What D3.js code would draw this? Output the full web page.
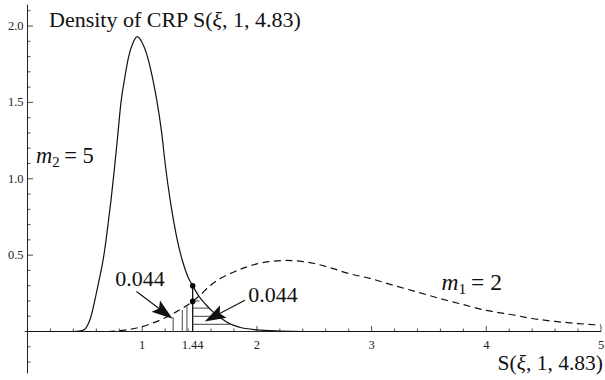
<!DOCTYPE html>
<html><head><meta charset="utf-8">
<script src="https://cdn.jsdelivr.net/npm/d3@7"></script>
</head><body style="margin:0">
<svg id="c" width="605" height="380" font-family="Liberation Serif"></svg>
<script>
// Solid curve (m2 = 5)
const solidX = [0, 0.40, 0.45, 0.50, 0.53, 0.55, 0.574, 0.60, 0.625, 0.65, 0.676, 0.70, 0.728, 0.757, 0.785, 0.815, 0.85, 0.879, 0.92, 0.957, 1.00, 1.053, 1.09, 1.126, 1.17, 1.20, 1.25, 1.30, 1.35, 1.40, 1.44, 1.50, 1.55, 1.62, 1.70, 1.765, 1.85, 2.00, 2.20, 2.40, 5.0];
const solidY = [0, 0, 0.002, 0.015, 0.05, 0.09, 0.16, 0.25, 0.34, 0.43, 0.55, 0.69, 0.86, 1.06, 1.27, 1.50, 1.67, 1.79, 1.89, 1.93, 1.89, 1.78, 1.66, 1.52, 1.30, 1.10, 0.83, 0.62, 0.465, 0.355, 0.30, 0.225, 0.18, 0.127, 0.08, 0.05, 0.028, 0.011, 0.003, 0, 0];
// Dashed curve (m1 = 2)
const dashX = [0, 0.70, 0.80, 0.90, 1.00, 1.10, 1.20, 1.30, 1.44, 1.50, 1.60, 1.70, 1.80, 1.90, 2.00, 2.10, 2.26, 2.40, 2.50, 2.65, 2.80, 3.00, 3.20, 3.40, 3.60, 3.80, 4.00, 4.20, 4.40, 4.60, 4.80, 5.00];
const dashY = [0, 0, 0.005, 0.015, 0.032, 0.058, 0.09, 0.13, 0.197, 0.235, 0.305, 0.355, 0.39, 0.42, 0.443, 0.457, 0.465, 0.458, 0.445, 0.415, 0.38, 0.345, 0.30, 0.258, 0.215, 0.176, 0.138, 0.113, 0.085, 0.066, 0.052, 0.042];
// Tick labels
const xTickLabels = ["1", "1.44", "2", "3", "4", "5"];
const xTickValues = [1, 1.44, 2, 3, 4, 5];
const yTickLabels = ["0.5", "1.0", "1.5", "2.0"];
const yTickValues = [0.5, 1.0, 1.5, 2.0];
// Critical value and the two densities at it
const critX = 1.44;
const critY = [0.30, 0.197];
// Hatching
const hatchVX = [1.27, 1.35, 1.39];
const hatchVTop = [0.095, 0.14, 0.165];
const hatchHY = [0.20, 0.153, 0.099, 0.046];
const hatchHEnd = [1.50, 1.58, 1.68, 1.76];
// Annotations
const areaLabels = ["0.044", "0.044"];

const svg = d3.select("#c");
const x = d3.scaleLinear().domain([0, 5]).range([27.5, 601]);
const y = d3.scaleLinear().domain([0, 2]).range([331.5, 26]);
const FONT = "Liberation Serif";
function tx(sel) { return sel.attr("font-family", FONT).style("font-family", FONT); }

// Axes
const axisCol = "#222";
svg.append("line").attr("x1", x(-0.025)).attr("x2", x(5)).attr("y1", y(0)).attr("y2", y(0))
  .attr("stroke", axisCol).attr("stroke-width", 1);
svg.append("line").attr("x1", x(0)).attr("x2", x(0)).attr("y1", y(2.14)).attr("y2", y(-0.275))
  .attr("stroke", axisCol).attr("stroke-width", 1);

// x ticks (upward)
const xMinor = d3.range(1, 25).map(i => i * 0.2).filter(v => Math.abs(v - Math.round(v)) > 1e-6);
svg.append("g").selectAll("line").data(xMinor).join("line")
  .attr("x1", d => x(d)).attr("x2", d => x(d)).attr("y1", y(0)).attr("y2", y(0) - 3)
  .attr("stroke", axisCol).attr("stroke-width", 0.8);
svg.append("g").selectAll("line").data([1, 2, 3, 4, 5]).join("line")
  .attr("x1", d => x(d)).attr("x2", d => x(d)).attr("y1", y(0)).attr("y2", y(0) - 5.5)
  .attr("stroke", axisCol).attr("stroke-width", 0.8);
tx(svg.append("g").selectAll("text").data(xTickValues).join("text"))
  .attr("x", d => x(d)).attr("y", y(0) + 17)
  .attr("text-anchor", "middle").attr("font-size", 12.5)
  .attr("fill", "#222").text((d, i) => xTickLabels[i]);

// y ticks (rightward)
const yMinor = d3.range(-2, 22).map(i => i * 0.1).filter(v => Math.abs(v * 2 - Math.round(v * 2)) > 1e-6);
svg.append("g").selectAll("line").data(yMinor).join("line")
  .attr("x1", x(0)).attr("x2", x(0) + 3).attr("y1", d => y(d)).attr("y2", d => y(d))
  .attr("stroke", axisCol).attr("stroke-width", 0.8);
svg.append("g").selectAll("line").data([0.5, 1, 1.5, 2]).join("line")
  .attr("x1", x(0)).attr("x2", x(0) + 5.5).attr("y1", d => y(d)).attr("y2", d => y(d))
  .attr("stroke", axisCol).attr("stroke-width", 0.8);
tx(svg.append("g").selectAll("text").data(yTickValues).join("text"))
  .attr("x", x(0) - 4).attr("y", d => y(d) + 4)
  .attr("text-anchor", "end").attr("font-size", 12.5)
  .attr("fill", "#222").text((d, i) => yTickLabels[i]);

// Hatching
svg.append("g").selectAll("line").data(hatchVX).join("line")
  .attr("x1", d => x(d)).attr("x2", d => x(d)).attr("y1", y(0)).attr("y2", (d, i) => y(hatchVTop[i]))
  .attr("stroke", "#666").attr("stroke-width", 1.2);
svg.append("g").selectAll("line").data(hatchHY).join("line")
  .attr("x1", x(critX)).attr("x2", (d, i) => x(hatchHEnd[i])).attr("y1", d => y(d)).attr("y2", d => y(d))
  .attr("stroke", "#666").attr("stroke-width", 1.2);

// Curves
const line = d3.line().x(d => x(d[0])).y(d => y(d[1])).curve(d3.curveMonotoneX);
svg.append("path").attr("d", line(solidX.map((v, i) => [v, solidY[i]])))
  .attr("fill", "none").attr("stroke", "#111").attr("stroke-width", 1.2);
svg.append("path").attr("d", line(dashX.map((v, i) => [v, dashY[i]])))
  .attr("fill", "none").attr("stroke", "#111").attr("stroke-width", 1.2)
  .attr("stroke-dasharray", "7,4.5");

// Critical line and dots
svg.append("line").attr("x1", x(critX)).attr("x2", x(critX)).attr("y1", y(0)).attr("y2", y(critY[0]))
  .attr("stroke", "#111").attr("stroke-width", 1.3);
svg.append("g").selectAll("circle").data(critY).join("circle")
  .attr("cx", x(critX)).attr("cy", d => y(d)).attr("r", 2.8).attr("fill", "#000");

// Arrows
const arrows = [
  { from: [0.95, 0.262], to: [1.265, 0.084] },
  { from: [1.895, 0.205], to: [1.545, 0.066] }
];
arrows.forEach(a => {
  const x1 = x(a.from[0]), y1 = y(a.from[1]), x2 = x(a.to[0]), y2 = y(a.to[1]);
  const dx = x2 - x1, dy = y2 - y1, L = Math.hypot(dx, dy);
  const ux = dx / L, uy = dy / L, nx = -uy, ny = ux;
  const hl = 21, hw = 7, notch = 4;
  const bx = x2 - ux * hl, by = y2 - uy * hl;
  svg.append("line").attr("x1", x1).attr("y1", y1).attr("x2", bx + ux * notch).attr("y2", by + uy * notch)
    .attr("stroke", "#111").attr("stroke-width", 1.1);
  const pts = [[x2, y2], [bx + nx * hw, by + ny * hw], [bx + ux * notch, by + uy * notch], [bx - nx * hw, by - ny * hw]];
  svg.append("path").attr("d", "M" + pts.map(p => p.join(",")).join("L") + "Z").attr("fill", "#111");
});

// Area labels
const areaPos = [[0.765, 0.30], [1.925, 0.193]];
tx(svg.append("g").selectAll("text").data(areaPos).join("text"))
  .attr("x", d => x(d[0])).attr("y", d => y(d[1]))
  .attr("font-size", 22).attr("fill", "#111")
  .text((d, i) => areaLabels[i]);

// Title
const title = tx(svg.append("text")).attr("x", 49).attr("y", 27)
  .attr("font-size", 22).attr("fill", "#111");
title.append("tspan").text("Density of CRP S(");
title.append("tspan").attr("font-style", "italic").text("ξ");
title.append("tspan").text(", 1, 4.83)");

// Axis label
const xl = tx(svg.append("text")).attr("x", 603).attr("y", 370).attr("text-anchor", "end")
  .attr("font-size", 21.5).attr("fill", "#111");
xl.append("tspan").text("S(");
xl.append("tspan").attr("font-style", "italic").text("ξ");
xl.append("tspan").text(", 1, 4.83)");

// Curve labels
function mLabel(px, py, sub, val, fs) {
  const t = tx(svg.append("text")).attr("x", px).attr("y", py)
    .attr("font-size", fs).attr("fill", "#111");
  t.append("tspan").attr("font-style", "italic").text("m");
  t.append("tspan").attr("font-size", fs * 0.66).attr("dy", 4).text(sub);
  t.append("tspan").attr("dy", -4).text("\u2009= " + val);
}
mLabel(x(0.075), y(1.1), "2", "5", 22.5);
mLabel(x(3.61), y(0.272), "1", "2", 23.5);
</script>
</body></html>
